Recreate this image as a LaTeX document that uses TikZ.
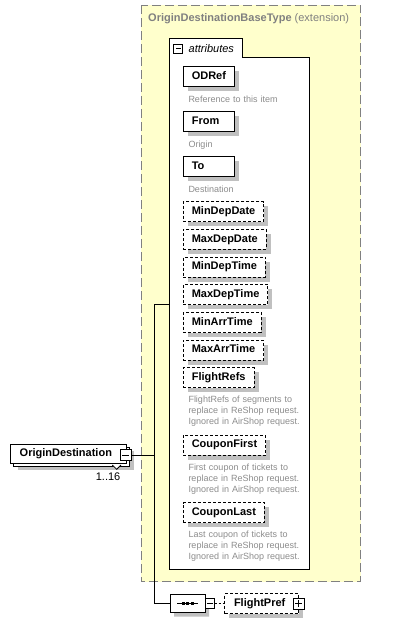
\documentclass[tikz,border=0pt]{standalone}
\usepackage{fontspec}
\setmainfont{Liberation Sans}
\usetikzlibrary{positioning}
\usetikzlibrary{shadows}
\usetikzlibrary{shapes.misc}

\definecolor{typefill}{HTML}{FFFFCC}
\definecolor{typeline}{HTML}{808080}
\definecolor{shadowgray}{HTML}{C0C0C0}
\definecolor{doctext}{HTML}{8C8C8C}

\tikzset{
  elem/.style={draw, fill=white, line width=1pt, outer sep=0pt,
    minimum height=20pt, inner xsep=8.5pt, inner ysep=0pt,
    text height=8pt, text depth=2.5pt, anchor=north west,
    font=\fontsize{11}{13}\selectfont\bfseries,
    drop shadow={shadow xshift=4.5pt, shadow yshift=-4.5pt, fill=shadowgray, opacity=1}},
  optelem/.style={elem, dash pattern=on 3pt off 2pt},
  doc/.style={anchor=base west, inner sep=0pt, text width=130pt, align=left,
    font=\fontsize{9}{11}\selectfont, text=doctext},
  minusbox/.style={draw, fill=white, line width=1pt, minimum size=#1,
    inner sep=0pt, outer sep=0pt,
    path picture={\draw[line width=1pt]
      ([xshift=2pt]path picture bounding box.west) -- ([xshift=-2pt]path picture bounding box.east);}},
  plusbox/.style={draw, fill=white, line width=1pt, minimum size=#1,
    inner sep=0pt, outer sep=0pt,
    path picture={\draw[line width=1pt]
      ([xshift=2pt]path picture bounding box.west) -- ([xshift=-2pt]path picture bounding box.east)
      ([yshift=2pt]path picture bounding box.south) -- ([yshift=-2pt]path picture bounding box.north);}},
  link/.style={line width=1pt},
}

\begin{document}
\begin{tikzpicture}[x=1pt, y=-1pt]
  \useasboundingbox (0,0) rectangle (403,624);

  % extension base type
  \draw [fill=typefill, draw=typeline, line width=1pt, dash pattern=on 9pt off 4pt]
    (141,5) rectangle (360.7,581.7);
  \node (typetitle) [anchor=west, inner sep=0pt, text=typeline, font=\fontsize{11}{13}\selectfont]
    at (148,19) {\textbf{OriginDestinationBaseType} (extension)};

  % attributes group
  \draw [fill=white, line width=1pt]
    (169.3,569) -- (169.3,38.3) -- (242.5,38.3) -- (242.5,57) -- (309.3,57) -- (309.3,569) -- cycle;
  \node (attrmin) [minusbox=9pt] at (178.3,48.8) {};
  \node (attrlabel) [anchor=west, inner sep=0pt, font=\fontsize{11}{13}\selectfont\itshape]
    at (188.5,48.5) {attributes};

  \node (odref) [elem] at (183.3,66.7) {ODRef};
  \node (odrefdoc) [below right=15.6pt and 5pt of odref.south west, doc] {Reference to this item};
  \node (from) [elem, below=25pt of odref.south west, anchor=north west, text width=34pt, align=left] {From};
  \node (fromdoc) [below right=15.6pt and 5pt of from.south west, doc] {Origin};
  \node (to) [elem, below=25pt of from.south west, anchor=north west, text width=34pt, align=left] {To};
  \node (todoc) [below right=15.6pt and 5pt of to.south west, doc] {Destination};
  \node (mindepdate) [optelem, below=25pt of to.south west, anchor=north west] {MinDepDate};
  \node (maxdepdate) [optelem, below=7.7pt of mindepdate.south west, anchor=north west] {MaxDepDate};
  \node (mindeptime) [optelem, below=7.7pt of maxdepdate.south west, anchor=north west] {MinDepTime};
  \node (maxdeptime) [optelem, below=7.7pt of mindeptime.south west, anchor=north west] {MaxDepTime};
  \node (minarrtime) [optelem, below=7.7pt of maxdeptime.south west, anchor=north west] {MinArrTime};
  \node (maxarrtime) [optelem, below=7.7pt of minarrtime.south west, anchor=north west] {MaxArrTime};
  \node (flightrefs) [optelem, below=7.7pt of maxarrtime.south west, anchor=north west] {FlightRefs};
  \node (flightrefsdoc) [below right=15pt and 5pt of flightrefs.south west, doc]
    {FlightRefs of segments to\\replace in ReShop request.\\Ignored in AirShop request.};
  \node (couponfirst) [optelem, below=47.3pt of flightrefs.south west, anchor=north west] {CouponFirst};
  \node (couponfirstdoc) [below right=15pt and 5pt of couponfirst.south west, doc]
    {First coupon of tickets to\\replace in ReShop request.\\Ignored in AirShop request.};
  \node (couponlast) [optelem, below=47.3pt of couponfirst.south west, anchor=north west] {CouponLast};
  \node (couponlastdoc) [below right=15pt and 5pt of couponlast.south west, doc]
    {Last coupon of tickets to\\replace in ReShop request.\\Ignored in AirShop request.};

  % the element itself
  \node (odelem) [draw, fill=white, line width=1pt, outer sep=0pt, minimum height=19pt,
    text width=98pt, inner xsep=9pt, inner ysep=0pt, align=left, anchor=north west,
    font=\fontsize{11}{13}\selectfont\bfseries,
    drop shadow={shadow xshift=7pt, shadow yshift=-7pt, fill=shadowgray, opacity=1},
    copy shadow={shadow xshift=3pt, shadow yshift=-3pt, draw=black, fill=white, line width=1pt}]
    at (10.7,444.3) {OriginDestination};
  \draw [fill=white, line width=0.8pt] (112.3,465) -- (116.7,469.3) -- (121,465);
  \node (odmult) [anchor=north east, inner sep=0pt, font=\fontsize{11}{13}\selectfont]
    at (120.5,472.5) {1..16};
  \node (odmin) [minusbox=11pt] at (125.7,455) {};

  % sequence
  \node (seq) [chamfered rectangle, chamfered rectangle xsep=6pt, chamfered rectangle ysep=5pt,
    draw, fill=white, line width=1pt, minimum width=35pt, minimum height=18pt,
    inner sep=0pt, outer sep=0pt,
    drop shadow={shadow xshift=4pt, shadow yshift=-4pt, fill=shadowgray, opacity=1}]
    at (187.5,603.5) {};
  \draw [line width=1pt] ([xshift=7pt]seq.west) -- ([xshift=-7pt]seq.east);
  \fill ([xshift=-4.5pt]seq.center) +(-1.5pt,-1.5pt) rectangle +(1.5pt,1.5pt);
  \fill (seq.center) +(-1.5pt,-1.5pt) rectangle +(1.5pt,1.5pt);
  \fill ([xshift=4.5pt]seq.center) +(-1.5pt,-1.5pt) rectangle +(1.5pt,1.5pt);
  \node (seqmin) [minusbox=9.5pt, right=0pt of seq] {};
  \node (flightpref) [optelem, right=10pt of seqmin, anchor=west, text width=55pt,
    inner xsep=9.5pt, align=left] {FlightPref};
  \node (fpplus) [plusbox=11pt] at (flightpref.east) {};

  % connectors
  \coordinate (trunktop) at (154.3,304.7);
  \coordinate (attrs) at (169.3,304.7);
  \draw [link] (odmin.east) -- (odmin.east -| trunktop);
  \draw [link] (attrs) -- (trunktop) -- (trunktop |- seq.west) -- (seq.west);
  \draw [link, dash pattern=on 2pt off 2pt] (seqmin) -- (flightpref);
\end{tikzpicture}
\end{document}
